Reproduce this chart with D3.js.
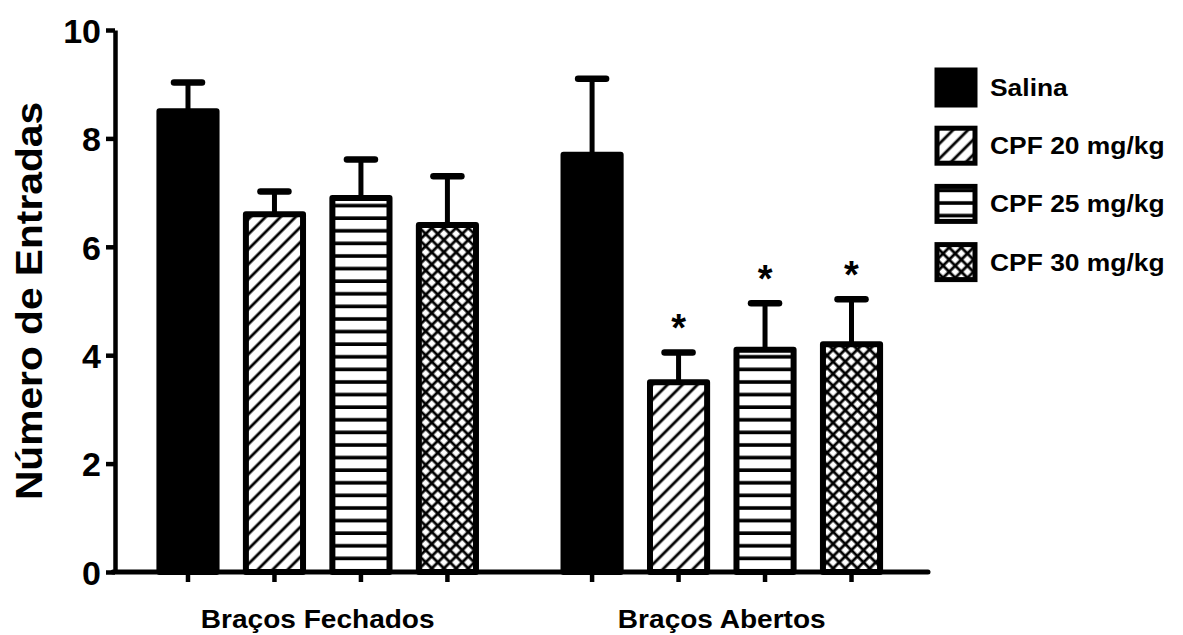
<!DOCTYPE html>
<html lang="pt">
<head>
<meta charset="UTF-8">
<title>Número de Entradas</title>
<script src="https://d3js.org/d3.v7.min.js"></script>
<style>
  body { margin: 0; background: #fff; }
  text { font-family: "Liberation Sans", Arial, sans-serif; font-weight: bold; fill: #000; }
</style>
</head>
<body>
<div id="chart"></div>
<script>

// data
var groups = ["Braços Fechados", "Braços Abertos"];
var series = ["Salina", "CPF 20 mg/kg", "CPF 25 mg/kg", "CPF 30 mg/kg"];
var meanFechados = [8.5, 6.6, 6.9, 6.4];
var semFechados  = [0.53, 0.42, 0.71, 0.9];
var meanAbertos  = [7.7, 3.5, 4.1, 4.2];
var semAbertos   = [1.4, 0.55, 0.86, 0.83];
var sigFechados  = [false, false, false, false];
var sigAbertos   = [false, true, true, true];
var yTicks = [0, 2, 4, 6, 8, 10];

var means = [meanFechados, meanAbertos];
var sems = [semFechados, semAbertos];
var sigs = [sigFechados, sigAbertos];

var data = [];
groups.forEach(function(g, gi) {
  series.forEach(function(s, si) {
    data.push({ group: g, serie: s, si: si, mean: means[gi][si], sem: sems[gi][si], sig: sigs[gi][si] });
  });
});

var W = 1183, H = 635;
var axisX = 115, axisEnd = 928;
var stretch = 1.1;   // labels in the original are a bit wider than Arial

var svg = d3.select("#chart").append("svg")
    .attr("width", W)
    .attr("height", H);

// patterns
var defs = svg.append("defs");
defs.append("pattern")
    .attr("id", "p1")
    .attr("patternUnits", "userSpaceOnUse")
    .attr("width", 10.6).attr("height", 10.6)
    .attr("patternTransform", "rotate(45)")
  .append("line")
    .attr("x1", 2).attr("y1", 0).attr("x2", 2).attr("y2", 10.6)
    .attr("stroke", "#000").attr("stroke-width", 2.8);

defs.append("pattern")
    .attr("id", "p2")
    .attr("patternUnits", "userSpaceOnUse")
    .attr("width", 10).attr("height", 12.6)
  .append("line")
    .attr("x1", 0).attr("y1", 4).attr("x2", 10).attr("y2", 4)
    .attr("stroke", "#000").attr("stroke-width", 3.6);

var p3 = defs.append("pattern")
    .attr("id", "p3")
    .attr("patternUnits", "userSpaceOnUse")
    .attr("width", 8.6).attr("height", 8.6)
    .attr("patternTransform", "rotate(45)");
p3.append("line")
    .attr("x1", 2).attr("y1", 0).attr("x2", 2).attr("y2", 8.6)
    .attr("stroke", "#000").attr("stroke-width", 2.8);
p3.append("line")
    .attr("x1", 0).attr("y1", 2).attr("x2", 8.6).attr("y2", 2)
    .attr("stroke", "#000").attr("stroke-width", 2.8);

var fills = ["#000", "url(#p1)", "url(#p2)", "url(#p3)"];

// scales
var y = d3.scaleLinear()
    .domain([0, 10])
    .range([572, 30]);

var x0 = d3.scaleBand()
    .domain(groups)
    .range([144.75, 894.75])
    .paddingInner(0.144);

var x1 = d3.scaleBand()
    .domain(series)
    .range([0, x0.bandwidth()])
    .paddingInner(0.27)
    .paddingOuter(0.135);

var sw = 6;
var cx = function(d) { return x0(d.group) + x1(d.serie) + x1.bandwidth() / 2; };

// error bars (drawn first, bars cover the stem base)
var err = svg.append("g");
err.selectAll("line.stem")
  .data(data)
  .enter().append("line")
    .attr("class", "stem")
    .attr("x1", cx).attr("x2", cx)
    .attr("y1", function(d) { return y(d.mean); })
    .attr("y2", function(d) { return y(d.mean + d.sem); })
    .attr("stroke", "#000").attr("stroke-width", 5);
err.selectAll("line.cap")
  .data(data)
  .enter().append("line")
    .attr("class", "cap")
    .attr("x1", function(d) { return cx(d) - 14; })
    .attr("x2", function(d) { return cx(d) + 14; })
    .attr("y1", function(d) { return y(d.mean + d.sem); })
    .attr("y2", function(d) { return y(d.mean + d.sem); })
    .attr("stroke", "#000").attr("stroke-width", 6.5)
    .attr("stroke-linecap", "round");

// bars
svg.append("g").selectAll("rect")
  .data(data)
  .enter().append("rect")
    .attr("x", function(d) { return x0(d.group) + x1(d.serie) + sw / 2; })
    .attr("width", x1.bandwidth() - sw)
    .attr("y", function(d) { return y(d.mean); })
    .attr("height", function(d) { return y(0) - y(d.mean); })
    .attr("fill", function(d) { return fills[d.si]; })
    .attr("stroke", "#000")
    .attr("stroke-width", sw)
    .attr("stroke-linejoin", "round");

// significance stars
svg.append("g").selectAll("text")
  .data(data.filter(function(d) { return d.sig; }))
  .enter().append("text")
    .attr("x", cx)
    .attr("y", function(d) { return y(d.mean + d.sem) - 11; })
    .attr("text-anchor", "middle")
    .style("font-size", "38px")
    .text("*");

// y axis
var yAxis = svg.append("g")
    .attr("transform", "translate(" + axisX + ",0)")
    .call(d3.axisLeft(y).tickValues(yTicks).tickSize(9).tickSizeOuter(0).tickPadding(5));
yAxis.select(".domain").attr("stroke", "#000").attr("stroke-width", 4.5);
yAxis.selectAll(".tick line").attr("stroke", "#000").attr("stroke-width", 4.5);
yAxis.selectAll(".tick text")
    .attr("dy", "0.36em")
    .style("font-size", "34px")
    .style("font-family", "'Liberation Sans', Arial, sans-serif")
    .style("font-weight", "bold");

// x axis
svg.append("line")
    .attr("x1", axisX - 2).attr("x2", axisEnd)
    .attr("y1", y(0)).attr("y2", y(0))
    .attr("stroke", "#000").attr("stroke-width", 5)
    .attr("stroke-linecap", "round");
svg.append("g").selectAll("line")
  .data(data)
  .enter().append("line")
    .attr("x1", cx).attr("x2", cx)
    .attr("y1", y(0)).attr("y2", y(0) + 10)
    .attr("stroke", "#000").attr("stroke-width", 4.5);

var groupLabels = svg.append("g").selectAll("text")
  .data(groups)
  .enter().append("text")
    .attr("x", function(g) { return x0(g) + x0.bandwidth() / 2; })
    .attr("y", 628)
    .attr("text-anchor", "middle")
    .style("font-size", "25.5px")
    .text(function(g) { return g; });

// y title
var yTitle = svg.append("text")
    .attr("transform", "translate(42,301) rotate(-90)")
    .attr("text-anchor", "middle")
    .style("font-size", "37px")
    .text("Número de Entradas");

// legend
var legend = svg.append("g").selectAll("g")
  .data(series)
  .enter().append("g")
    .attr("transform", function(s, i) { return "translate(937," + (70 + i * 58.2) + ")"; });
legend.append("rect")
    .attr("width", 38).attr("height", 35)
    .attr("fill", function(s, i) { return fills[i]; })
    .attr("stroke", "#000").attr("stroke-width", 5);
var legendText = legend.append("text")
    .attr("x", 53)
    .attr("y", 26)
    .style("font-size", "24px")
    .text(function(s) { return s; });

// widen labels to the original proportions
function widen(sel) {
  sel.each(function() {
    var len = this.getComputedTextLength();
    d3.select(this).attr("textLength", len * stretch).attr("lengthAdjust", "spacingAndGlyphs");
  });
}
widen(groupLabels);
widen(yTitle);
widen(legendText);

</script>
</body>
</html>
